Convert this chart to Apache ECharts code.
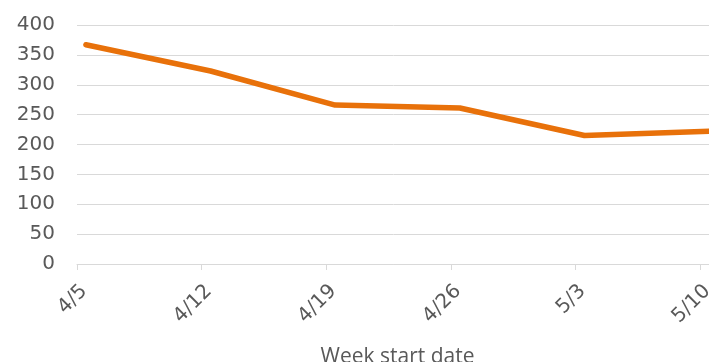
<!DOCTYPE html>
<html>
<head>
<meta charset="utf-8">
<script src="https://cdn.jsdelivr.net/npm/echarts@6/dist/echarts.min.js"></script>
<style>
  html, body { margin: 0; padding: 0; background: #fff; }
  #chart { width: 709px; height: 362px; }
</style>
</head>
<body>
<div id="chart"></div>
<script>
// 每周数据
const weekStarts = ['2021-04-05', '2021-04-12', '2021-04-19', '2021-04-26', '2021-05-03', '2021-05-10']
const counts = [367, 323, 266, 261, 215, 222]
const yMin = 0
const yMax = 400
const yStep = 50

const DAY = 86400000
const t0 = Date.parse(weekStarts[0])
const toDay = (s) => (Date.parse(s) - t0) / DAY

window.addEventListener('load', () => {
  let myChart = echarts.init(document.getElementById('chart'))
  const numFont = 'DejaVu Sans'
  const textFont = 'Open Sans'
  let option = {
    animation: false,
    grid: {
      left: 77,
      right: -9,
      top: 25,
      bottom: 98,
      outerBoundsMode: 'none',
      containLabel: false,
    },
    xAxis: {
      type: 'value',
      min: 0,
      max: 36,
      interval: 7,
      name: 'Week start date',
      nameLocation: 'middle',
      nameGap: 83,
      nameTextStyle: { color: '#595959', fontSize: 21, fontFamily: textFont },
      splitLine: { show: false },
      axisLine: { lineStyle: { color: '#d9d9d9', width: 1 } },
      axisTick: { length: 6, lineStyle: { color: '#d9d9d9' } },
      axisLabel: {
        rotate: 45,
        margin: 17,
        verticalAlign: 'top',
        color: '#595959',
        fontSize: 20,
        fontFamily: numFont,
        formatter: (v) => {
          if (v % 7) return ''
          const d = new Date(t0 + v * DAY)
          return d.getUTCMonth() + 1 + '/' + d.getUTCDate()
        },
      },
    },
    yAxis: {
      type: 'value',
      min: yMin,
      max: yMax,
      interval: yStep,
      axisLine: { show: false },
      axisTick: { show: false },
      splitLine: { lineStyle: { color: '#d9d9d9', width: 1 } },
      axisLabel: { color: '#595959', fontSize: 20, fontFamily: numFont, margin: 22 },
    },
    series: [
      {
        type: 'line',
        // Excel 把点放在当天的中间
        data: weekStarts.map((d, i) => [toDay(d) + 0.5, counts[i]]),
        symbol: 'none',
        lineStyle: { color: '#e8710a', width: 5.5, cap: 'round', join: 'round' },
      },
    ],
  }
  myChart.setOption(option)
})
</script>
</body>
</html>
